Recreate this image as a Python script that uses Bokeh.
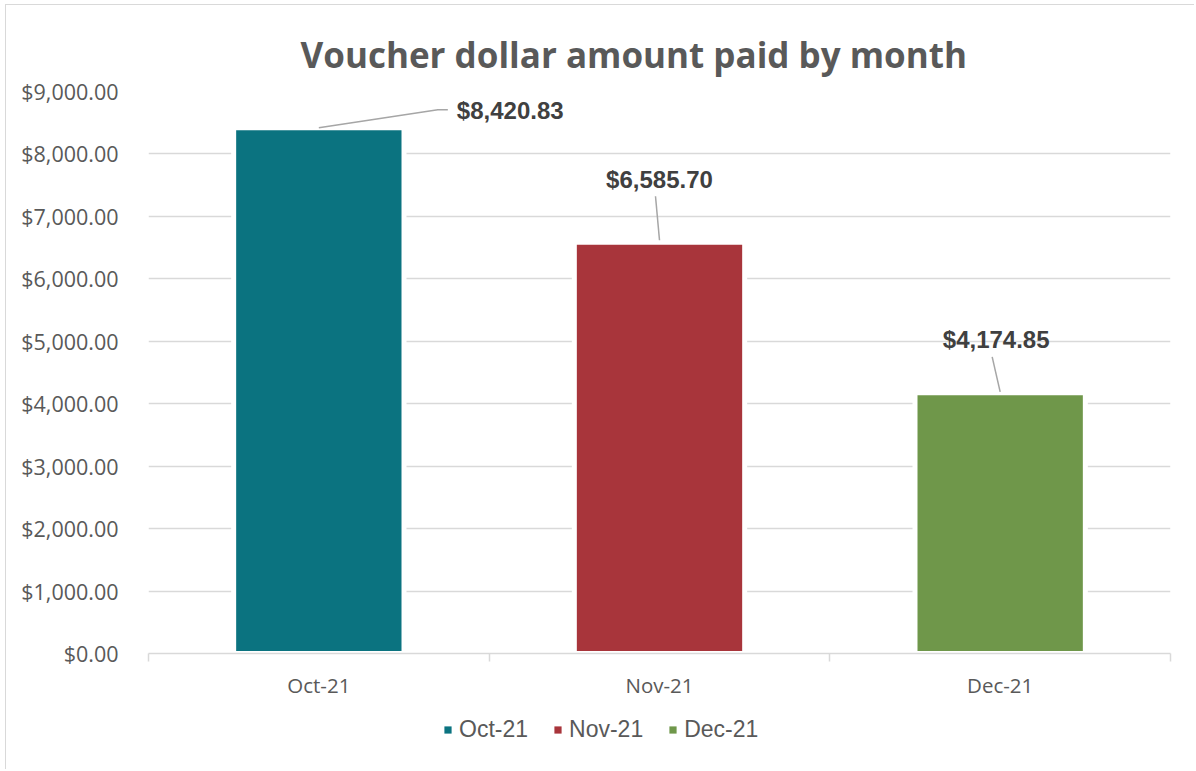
from bokeh.plotting import figure
from bokeh.layouts import column
from bokeh.models import (ColumnDataSource, Range1d, FixedTicker,
                          SingleIntervalTicker, NumeralTickFormatter, Title)
from bokeh.core.properties import value
from bokeh.embed import file_html
from bokeh.resources import INLINE

# ---- data ----
months = ["Oct-21", "Nov-21", "Dec-21"]
amounts = [8420.83, 6585.70, 4174.85]
label_texts = ["$8,420.83", "$6,585.70", "$4,174.85"]
title_text = "Voucher dollar amount paid by month"
y_max = 9000
y_step = 1000

# ---- styles ----
colors = ["#0B7380", "#A8353B", "#6F974A"]
lab_dx = [138, 0, -4]          # px
lab_dy = [-17, -63, -53]       # px (screen, negative = up)
lab_align = ["left", "center", "center"]
# leader polylines, px offsets from bar top-centre (up positive)
lead_px = [[(0, 0), (119, 18), (129, 18)],
           [(0, 2), (-4, 46)],
           [(0, 1), (-8, 36)]]

W, H = 1188, 700
BL, BR, BT, BB = 142, 24, 86, 52
FW, FH = W - BL - BR, H - BT - BB
n = len(months)
xu = n / FW
yu = y_max / FH

slots = list(range(1, n + 1))
lead_xs = [[slots[i] + dx * xu for dx, dy in pts] for i, pts in enumerate(lead_px)]
lead_ys = [[amounts[i] + dy * yu for dx, dy in pts] for i, pts in enumerate(lead_px)]

src = ColumnDataSource(dict(slot=slots, month=months, amount=amounts, label=label_texts,
                            color=colors, dx=lab_dx, dy=lab_dy, align=lab_align))

p = figure(x_range=Range1d(0.5, n + 0.5), y_range=Range1d(0, y_max),
           width=W, height=H, min_border_left=BL, min_border_right=BR,
           min_border_top=BT, min_border_bottom=BB,
           toolbar_location=None, output_backend="svg", outline_line_color=None)
p.background_fill_color = "white"
p.border_fill_color = "white"

p.vbar(x="slot", top="amount", width=0.5, fill_color="color", line_color="white",
       line_width=5, source=src)

p.multi_line(xs=lead_xs, ys=lead_ys, line_color="#A6A6A6", line_width=1.5)

p.text(x="slot", y="amount", text="label", x_offset="dx", y_offset="dy",
       text_align="align", text_baseline="middle", source=src,
       text_font=value("Liberation Sans"), text_font_style="bold",
       text_font_size="24px", text_color="#404040")

# title
p.add_layout(Title(text=title_text, align="left", offset=152, standoff=28,
                   text_font="Open Sans", text_font_style="bold",
                   text_font_size="35px", text_color="#595959"), "above")

# y axis
ya = p.yaxis[0]
ya.ticker = SingleIntervalTicker(interval=y_step)
ya.formatter = NumeralTickFormatter(format="$0,0.00")
ya.axis_line_color = None
ya.major_tick_line_color = None
ya.minor_tick_line_color = None
ya.major_label_standoff = 24
ya.major_label_text_font = "Open Sans"
ya.major_label_text_font_size = "21.5px"
ya.major_label_text_color = "#595959"

p.ygrid.grid_line_color = "#D9D9D9"
p.ygrid.grid_line_width = 1.5
p.xgrid.visible = False

# x axis: labels at category centres, ticks at category boundaries
xa = p.xaxis[0]
xa.ticker = FixedTicker(ticks=slots, minor_ticks=[s - 0.5 for s in slots] + [n + 0.5])
xa.major_label_overrides = {s: m for s, m in zip(slots, months)}
xa.axis_line_color = "#D9D9D9"
xa.axis_line_width = 1.5
xa.major_tick_line_color = None
xa.major_tick_out = 0
xa.major_tick_in = 0
xa.minor_tick_line_color = "#D9D9D9"
xa.minor_tick_line_width = 1.5
xa.minor_tick_out = 8
xa.minor_tick_in = 0
xa.major_label_standoff = 9
xa.major_label_text_font = "Open Sans"
xa.major_label_text_font_size = "20.5px"
xa.major_label_text_color = "#595959"

# legend strip below the chart (zero-width legend proxies, nothing drawn in the strip)
q = figure(x_range=p.x_range, y_range=Range1d(-2 * y_max, -y_max), width=W, height=64,
           min_border=0, x_axis_location=None, y_axis_location=None,
           toolbar_location=None, output_backend="svg", outline_line_color=None)
q.grid.visible = False
q.vbar(x="slot", top="amount", width=0, fill_color="color", line_color=None,
       source=src, legend_field="month")
lg = q.legend[0]
lg.orientation = "horizontal"
lg.location = (295, 26)
lg.margin = 0
lg.padding = 0
lg.spacing = 25
lg.glyph_width = 9
lg.glyph_height = 9
lg.label_height = 23
lg.label_standoff = 7
lg.label_text_font = "Liberation Sans"
lg.label_text_font_size = "23px"
lg.label_text_color = "#595959"
lg.border_line_color = None
lg.background_fill_alpha = 0

layout = column(p, q, spacing=0,
                styles={"margin-left": "5px", "margin-top": "4px",
                        "border-left": "1px solid #D9D9D9", "border-top": "1px solid #D9D9D9"})

open("out.html", "w").write(file_html(layout, INLINE))
